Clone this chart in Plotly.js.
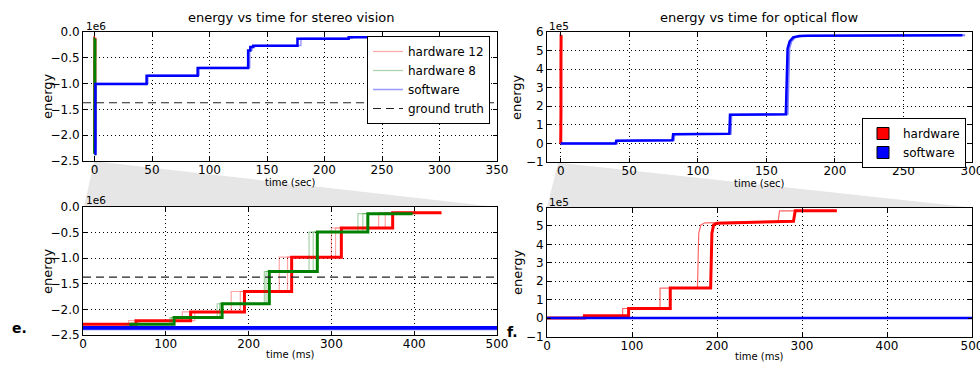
<!DOCTYPE html>
<html><head><meta charset="utf-8">
<script src="https://cdn.plot.ly/plotly-3.0.1.min.js"></script>
<style>body{margin:0;background:#fff}#chart{width:980px;height:375px}</style>
</head><body><div id="chart"></div>
<script>
// ---------- Stereo vision: hardware runs (time in ms), step levels ----------
const stereoHw12Levels = [-2.29e6, -2.22e6, -2.05e6, -1.65e6, -0.98e6, -0.41e6, -0.11e6, -0.11e6];
const stereoHw12Main   = [0, 64, 130, 195, 252, 312, 374, 433];
const stereoHw12RunB   = [0, 55, 120, 179, 237, 300, 357, 420];
const stereoHw12RunC   = [0, 68, 135, 190, 247, 305, 365, 430];
const stereoHw8Levels  = [-2.36e6, -2.29e6, -2.16e6, -1.89e6, -1.26e6, -0.49e6, -0.13e6, -0.13e6];
const stereoHw8Main    = [0, 58, 110, 168, 225, 283, 344, 398];
const stereoHw8RunB    = [0, 52, 105, 162, 219, 273, 332, 392];
const stereoHw8RunC    = [0, 56, 107, 165, 221, 278, 338, 402];
const stereoGroundTruth = -1.37e6;
// software (time in sec)
const stereoSwTime    = [0, 0.8, 45.3, 89.7, 133.6, 135.5, 138, 176.5, 221, 309];
const stereoSwTimeB   = [0, 1.0, 46.5, 91, 135, 137, 140, 179.5, 224, 305];
const stereoSwLevels  = [-2.36e6, -1.01e6, -0.85e6, -0.70e6, -0.36e6, -0.29e6, -0.265e6, -0.13e6, -0.10e6, -0.10e6];
const stereoSwLevelsB = [-2.38e6, -1.00e6, -0.84e6, -0.69e6, -0.35e6, -0.28e6, -0.26e6, -0.12e6, -0.10e6, -0.10e6];

// ---------- Optical flow ----------
// hardware (time in ms)
const flowHwTime    = [0, 44, 44, 96, 96, 145, 145, 192.5, 194, 196, 200, 240, 290, 292, 341];
const flowHwEnergy  = [0, 0, 0.13e5, 0.13e5, 0.52e5, 0.52e5, 1.63e5, 1.63e5, 4.6e5, 5.05e5, 5.15e5, 5.2e5, 5.25e5, 5.82e5, 5.82e5];
const flowHwTimeB   = [0, 44, 44, 89, 89, 133, 133, 177, 178.5, 181, 186, 240, 272, 273.5, 341];
const flowHwEnergyB = [0, 0, 0.13e5, 0.13e5, 0.52e5, 0.52e5, 1.63e5, 1.63e5, 4.6e5, 5.05e5, 5.17e5, 5.2e5, 5.25e5, 5.82e5, 5.82e5];
// software (time in sec)
const flowSwTime    = [0, 40, 40.5, 81.5, 82, 123, 123.5, 164.2, 165.5, 167, 169.5, 174, 180, 293];
const flowSwTimeB   = [0, 41, 41.5, 82.5, 83, 124, 124.5, 165.5, 166.8, 168.3, 171, 176, 183, 295];
const flowSwEnergy  = [0, 0, 0.15e5, 0.17e5, 0.5e5, 0.52e5, 1.55e5, 1.57e5, 5.12e5, 5.5e5, 5.71e5, 5.78e5, 5.8e5, 5.82e5];

// ---------- ticks ----------
const stereoYTicks = [0, -0.5e6, -1.0e6, -1.5e6, -2.0e6, -2.5e6];
const stereoYLabels = ['0.0', '\u22120.5', '\u22121.0', '\u22121.5', '\u22122.0', '\u22122.5'];
const flowYTicks = [-1e5, 0, 1e5, 2e5, 3e5, 4e5, 5e5, 6e5];
const flowYLabels = ['\u22121', '0', '1', '2', '3', '4', '5', '6'];
const stereoSecTicks = [0, 50, 100, 150, 200, 250, 300, 350];
const flowSecTicks = [0, 50, 100, 150, 200, 250, 300];
const msTicks = [0, 100, 200, 300, 400, 500];

const stereoSecRange = [-10, 350];
const flowSecRange = [-10, 300];
const msRange = [0, 500];

const toSec = a => a.map(v => v / 1000);
const toMs = a => a.map(v => v * 1000);

const RED = '#ff0000', GREEN = '#008000', BLUE = '#0000ff';
const W = 980, H = 375;
const px = v => v / W, py = v => 1 - v / H;

function stepTrace(x, y, color, width, opacity, xa, ya, extra) {
  return Object.assign({type: 'scatter', mode: 'lines', x: x, y: y, xaxis: xa, yaxis: ya,
    line: {color: color, width: width, shape: 'hv'}, opacity: opacity, showlegend: false, hoverinfo: 'skip'}, extra || {});
}
function linTrace(x, y, color, width, opacity, xa, ya, extra) {
  return Object.assign({type: 'scatter', mode: 'lines', x: x, y: y, xaxis: xa, yaxis: ya,
    line: {color: color, width: width}, opacity: opacity, showlegend: false, hoverinfo: 'skip'}, extra || {});
}

const traces = [];
// ---- top-left (sec) and bottom-left (ms) stereo ----
[['x', 'y', toSec, stereoSecRange, v => v], ['x2', 'y2', v => v, msRange, toMs]].forEach(([xa, ya, hwConv, rng, swConv], idx) => {
  const leg = idx === 0;
  traces.push(stepTrace(hwConv(stereoHw12RunB), stereoHw12Levels, RED, 1.2, 0.35, xa, ya, leg ? {showlegend: true, name: 'hardware 12', legend: 'legend'} : {}));
  traces.push(stepTrace(hwConv(stereoHw12RunC), stereoHw12Levels, RED, 1.2, 0.35, xa, ya));
  traces.push(stepTrace(hwConv(stereoHw12Main), stereoHw12Levels, RED, 3, 1, xa, ya));
  traces.push(stepTrace(hwConv(stereoHw8RunB), stereoHw8Levels, GREEN, 1.2, 0.35, xa, ya, leg ? {showlegend: true, name: 'hardware 8', legend: 'legend'} : {}));
  traces.push(stepTrace(hwConv(stereoHw8RunC), stereoHw8Levels, GREEN, 1.2, 0.35, xa, ya));
  traces.push(stepTrace(hwConv(stereoHw8Main), stereoHw8Levels, GREEN, 3, 1, xa, ya));
  traces.push(stepTrace(swConv(stereoSwTimeB), stereoSwLevelsB, BLUE, leg ? 1.5 : 3, leg ? 0.4 : 0.6, xa, ya, leg ? {showlegend: true, name: 'software', legend: 'legend'} : {}));
  traces.push(stepTrace(swConv(stereoSwTime), stereoSwLevels, BLUE, leg ? 2.5 : 3.5, 1, xa, ya));
  traces.push(linTrace(rng, [stereoGroundTruth, stereoGroundTruth], '#000', 1.1, 1, xa, ya,
    Object.assign({line: {color: '#222', width: 1.1, dash: '8px,5px'}}, leg ? {showlegend: true, name: 'ground truth', legend: 'legend'} : {})));
});
// ---- top-right (sec) and bottom-right (ms) optical flow ----
[['x3', 'y3', toSec, v => v], ['x4', 'y4', v => v, toMs]].forEach(([xa, ya, hwConv, swConv]) => {
  traces.push(linTrace(hwConv(flowHwTimeB), flowHwEnergyB, RED, 1.2, 0.6, xa, ya));
  traces.push(linTrace(hwConv(flowHwTime), flowHwEnergy, RED, 3, 1, xa, ya));
  traces.push(linTrace(swConv(flowSwTimeB), flowSwEnergy, BLUE, 2, 0.5, xa, ya));
  traces.push(linTrace(swConv(flowSwTime), flowSwEnergy, BLUE, 2.5, 1, xa, ya));
});
// legend patches for optical flow (legend entries only)
traces.push({type: 'bar', x: flowHwTime, y: flowHwEnergy, xaxis: 'x3', yaxis: 'y3', name: 'hardware', legend: 'legend2',
  visible: 'legendonly', marker: {color: RED, line: {color: '#000', width: 1}}, showlegend: true});
traces.push({type: 'bar', x: flowSwTime, y: flowSwEnergy, xaxis: 'x3', yaxis: 'y3', name: 'software', legend: 'legend2',
  visible: 'legendonly', marker: {color: BLUE, line: {color: '#000', width: 1}}, showlegend: true});

const FONT = 'DejaVu Sans';
function axis(domain, range, tickvals, ticktext, anchor, isX) {
  const a = {domain: domain, range: range, tickvals: tickvals, anchor: anchor,
    showline: true, linecolor: '#000', linewidth: 1, mirror: 'ticks', ticks: 'inside', ticklen: 4,
    tickcolor: '#000', showgrid: true, gridcolor: '#000', griddash: '1px,3px', gridwidth: 1,
    zeroline: false, tickfont: {family: FONT, size: 12, color: '#000'}, fixedrange: true, automargin: false,
    ticklabeloverflow: 'allow'};
  if (isX) a.ticklabelstandoff = -2;
  if (ticktext) a.ticktext = ticktext;
  return a;
}

const LX = [px(83), px(497)], RX = [px(547), px(972)];
const TY = [py(161), py(32)], BY = [py(335), py(207)];
const TYR = [py(162), py(32)], BYR = [py(336.5), py(207.5)];

const ann = (x, y, text, size, extra) => Object.assign({xref: 'paper', yref: 'paper', x: x, y: y, text: text,
  xanchor: 'center', yanchor: 'middle',
  showarrow: false, font: {family: FONT, size: size, color: '#000'}}, extra || {});

const layout = {
  width: W, height: H, margin: {l: 0, r: 0, t: 0, b: 0}, paper_bgcolor: '#fff', plot_bgcolor: '#fff',
  showlegend: true,
  xaxis: axis(LX, stereoSecRange, stereoSecTicks, null, 'y', true),
  yaxis: axis(TY, [-2.5e6, 0], stereoYTicks, stereoYLabels, 'x'),
  xaxis2: axis(LX, msRange, msTicks, null, 'y2', true),
  yaxis2: axis(BY, [-2.5e6, 0], stereoYTicks, stereoYLabels, 'x2'),
  xaxis3: axis(RX, flowSecRange, flowSecTicks, null, 'y3', true),
  yaxis3: axis(TYR, [-1e5, 6e5], flowYTicks, flowYLabels, 'x3'),
  xaxis4: axis(RX, msRange, msTicks, null, 'y4', true),
  yaxis4: axis(BYR, [-1e5, 6e5], flowYTicks, flowYLabels, 'x4'),
  legend: {x: px(490), xanchor: 'right', y: py(36), yanchor: 'top', bgcolor: '#fff', bordercolor: '#000', borderwidth: 1,
    font: {family: FONT, size: 12, color: '#000'}, itemwidth: 30, tracegroupgap: 0},
  legend2: {x: px(966), xanchor: 'right', y: py(118), yanchor: 'top', bgcolor: '#fff', bordercolor: '#000', borderwidth: 1,
    font: {family: FONT, size: 12, color: '#000'}, itemwidth: 30, tracegroupgap: 0, itemclick: false},
  shapes: [
    {type: 'path', xref: 'paper', yref: 'paper', layer: 'below', line: {width: 0}, fillcolor: '#e6e6e6',
      path: `M ${px(94)},${py(162)} L ${px(101)},${py(162)} L ${px(497)},${py(207)} L ${px(84)},${py(207)} Z`},
    {type: 'path', xref: 'paper', yref: 'paper', layer: 'below', line: {width: 0}, fillcolor: '#e6e6e6',
      path: `M ${px(558)},${py(163)} L ${px(562)},${py(163)} L ${px(972)},${py(207.5)} L ${px(547)},${py(207.5)} Z`}
  ],
  annotations: [
    ann(px(291), py(17), 'energy vs time for stereo vision', 13),
    ann(px(759), py(17), 'energy vs time for optical flow', 13),
    ann(px(84), py(25.5), '1e6', 10.5, {xanchor: 'left'}),
    ann(px(84), py(200.5), '1e6', 10.5, {xanchor: 'left'}),
    ann(px(547), py(26), '1e5', 10.5, {xanchor: 'left'}),
    ann(px(547), py(202), '1e5', 10.5, {xanchor: 'left'}),
    ann(px(47), py(96), 'energy', 13, {textangle: -90}),
    ann(px(47), py(271), 'energy', 13, {textangle: -90}),
    ann(px(517), py(97), 'energy', 13, {textangle: -90}),
    ann(px(517), py(272), 'energy', 13, {textangle: -90}),
    ann(px(290), py(182), 'time (sec)', 10),
    ann(px(290), py(354), 'time (ms)', 10),
    ann(px(759), py(183), 'time (sec)', 10),
    ann(px(759), py(356), 'time (ms)', 10),
    ann(px(19), py(328), '<b>e.</b>', 14),
    ann(px(512), py(332), '<b>f.</b>', 14)
  ]
};

Plotly.newPlot('chart', traces, layout, {staticPlot: true, displayModeBar: false}).then(gd => {
  // show the legend-only patch entries at full strength
  gd.querySelectorAll('g.legend2 g.traces, g.legend2 .traces').forEach(t => { t.style.opacity = 1; });
});
</script>
</body></html>
